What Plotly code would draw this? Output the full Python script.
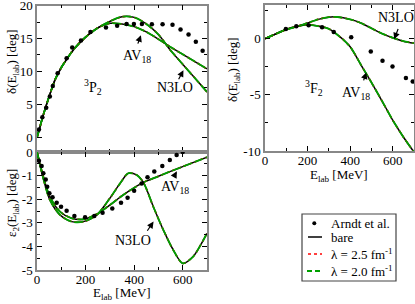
import plotly.graph_objects as go

W, H = 415, 304
FONT = "Liberation Serif"

# ---------------- data ----------------
# 3P2 phase shift (top-left)
p2_arndt_E = [8, 22, 38, 53, 65, 85, 122, 145, 181, 220, 284, 330, 369, 399, 432, 473, 517, 558, 591, 624, 654, 682]
p2_arndt_d = [1.2, 3.05, 4.5, 6.2, 7.8, 9.75, 12.0, 13.65, 14.7, 16.0, 16.65, 16.95, 17.2, 17.2, 17.2, 17.15, 17.15, 17.1, 16.35, 15.6, 14.5, 13.15]
p2_E = [0, 10, 25, 50, 75, 100, 125, 150, 200, 250, 300, 350, 400, 450, 500, 550, 600, 650, 700]
p2_n3lo = [0, 1.3, 3.3, 6.2, 8.8, 10.6, 12.0, 13.3, 15.2, 16.6, 17.6, 18.3, 18.2, 17.2, 15.6, 13.2, 11.1, 9.0, 6.9]
p2_av18 = [0, 1.3, 3.3, 6.2, 8.8, 10.6, 12.0, 13.3, 15.2, 16.6, 17.3, 17.2, 16.8, 16.0, 14.9, 13.7, 12.6, 11.5, 10.4]

# epsilon_2 mixing angle (bottom-left)
e2_arndt_E = [8, 19, 26, 36, 42, 51, 64, 81, 99, 122, 154, 198, 236, 270, 310, 346, 373, 400, 431, 455, 483, 516, 547, 575, 600]
e2_arndt_e = [-0.37, -0.59, -0.9, -1.16, -1.47, -1.75, -1.92, -2.15, -2.32, -2.49, -2.71, -2.77, -2.71, -2.57, -2.39, -2.15, -1.94, -1.64, -1.33, -1.07, -0.83, -0.59, -0.34, -0.13, 0.0]
e2_n3lo_E = [0, 10, 26, 53, 95, 143, 191, 246, 300, 342, 376, 410, 438, 479, 520, 561, 600, 643, 685, 700]
e2_n3lo = [0, -0.45, -1.12, -2.03, -2.67, -2.95, -2.95, -2.67, -1.96, -1.33, -0.9, -0.97, -1.29, -2.32, -3.3, -4.15, -4.72, -4.43, -3.73, -3.45]
e2_av18_E = [0, 10, 26, 53, 95, 143, 191, 246, 300, 355, 438, 500, 550, 600, 650, 700]
e2_av18 = [0, -0.4, -1.05, -1.89, -2.53, -2.81, -2.85, -2.63, -2.25, -1.82, -1.29, -1.03, -0.82, -0.62, -0.42, -0.22]

# 3F2 phase shift (right)
f2_arndt_E = [98, 147, 205, 268, 323, 405, 497, 552, 599, 662, 694]
f2_arndt_d = [0.86, 1.1, 1.19, 1.01, 0.6, 0.12, -1.13, -1.96, -2.47, -3.5, -3.81]
f2_E = [0, 50, 100, 150, 200, 250, 300, 340, 400, 450, 500, 550, 600, 650, 700]
f2_n3lo = [0, 0.42, 0.82, 1.08, 1.4, 1.72, 1.92, 1.93, 1.72, 1.4, 0.93, 0.45, 0.08, -0.22, -0.4]
f2_av18_E = [0, 50, 100, 150, 200, 250, 300, 350, 400, 450, 500, 550, 600, 650, 700]
f2_av18 = [0, 0.42, 0.82, 1.1, 1.25, 1.12, 0.88, 0.2, -0.72, -2.3, -3.9, -5.55, -7.25, -8.75, -10.1]

# tick labels
x_ticks = [0, 200, 400, 600]
x_tick_text = ["0", "200", "400", "600"]
p2_ticks = [0, 5, 10, 15, 20]
p2_tick_text = ["0", "5", "10", "15", "20"]
e2_ticks = [0, -1, -2, -3, -4, -5]
e2_tick_text = ["0", "-1", "-2", "-3", "-4", "-5"]
f2_ticks = [0, -5, -10]
f2_tick_text = ["0", "-5", "-10"]

legend_labels = ["Arndt et al.", "bare", "λ = 2.5 fm<sup>-1</sup>", "λ = 2.0 fm<sup>-1</sup>"]

GREEN = "#00a000"
RED = "#ff0000"

fig = go.Figure()


def add_curve(xv, yv, xa, ya):
    fig.add_trace(go.Scatter(x=xv, y=yv, xaxis=xa, yaxis=ya, mode="lines",
                             line=dict(color="black", width=1.5, shape="spline", smoothing=0.8),
                             showlegend=False, hoverinfo="skip"))
    fig.add_trace(go.Scatter(x=xv, y=yv, xaxis=xa, yaxis=ya, mode="lines",
                             line=dict(color=RED, width=1.6, dash="dot", shape="spline", smoothing=0.8),
                             showlegend=False, hoverinfo="skip"))
    fig.add_trace(go.Scatter(x=xv, y=yv, xaxis=xa, yaxis=ya, mode="lines",
                             line=dict(color=GREEN, width=1.8, dash="9px,3px", shape="spline", smoothing=0.8),
                             showlegend=False, hoverinfo="skip"))


def add_dots(xv, yv, xa, ya):
    fig.add_trace(go.Scatter(x=xv, y=yv, xaxis=xa, yaxis=ya, mode="markers",
                             marker=dict(color="black", size=4.5),
                             showlegend=False, hoverinfo="skip"))


add_curve(p2_E, p2_av18, "x", "y")
add_curve(p2_E, p2_n3lo, "x", "y")
add_dots(p2_arndt_E, p2_arndt_d, "x", "y")

add_curve(e2_av18_E, e2_av18, "x2", "y2")
add_curve(e2_n3lo_E, e2_n3lo, "x2", "y2")
add_dots(e2_arndt_E, e2_arndt_e, "x2", "y2")

add_curve(f2_av18_E, f2_av18, "x3", "y3")
add_curve(f2_E, f2_n3lo, "x3", "y3")
add_dots(f2_arndt_E, f2_arndt_d, "x3", "y3")

tickfont = dict(family=FONT, size=13, color="black")


def axstyle(tv, tt, minor_dtick, **kw):
    d = dict(showline=True, linecolor="#888888", linewidth=1.5, mirror="ticks",
             ticks="inside", ticklen=5, tickcolor="black", tickwidth=1,
             showgrid=False, zeroline=False, tickmode="array", tickvals=tv, ticktext=tt,
             tickfont=tickfont, automargin=False, ticklabeloverflow="allow",
             minor=dict(ticks="inside", ticklen=3, tickcolor="black", tickwidth=1,
                        tickmode="linear", tick0=0, dtick=minor_dtick))
    d.update(kw)
    return d


LX = [37 / W, 207 / W]
RX = [265 / W, 414 / W]

fig.update_layout(
    width=W, height=H,
    margin=dict(l=0, r=0, t=0, b=0),
    paper_bgcolor="white", plot_bgcolor="white",
    font=dict(family=FONT, size=13, color="black"),
    showlegend=False,
    xaxis=axstyle(x_ticks, x_tick_text, 100, domain=LX, anchor="y", range=[0, 700], matches="x2",
                  showticklabels=False),
    yaxis=axstyle(p2_ticks, p2_tick_text, 2.5, domain=[1 - 152 / H, 1 - 5.5 / H], anchor="x", range=[-2.2, 20]),
    xaxis2=axstyle(x_ticks, x_tick_text, 100, domain=LX, anchor="y2", range=[0, 700], ticklabelstandoff=-3),
    yaxis2=axstyle(e2_ticks, e2_tick_text, 0.5, domain=[1 - 270 / H, 1 - 152 / H], anchor="x2", range=[-5, 0]),
    xaxis3=axstyle(x_ticks, x_tick_text, 100, domain=RX, anchor="y3", range=[0, 700], ticklabelstandoff=-3),
    yaxis3=axstyle(f2_ticks, f2_tick_text, 2.5, domain=[1 - 151 / H, 1 - 5 / H], anchor="x3", range=[-10, 3]),
)


def X(p):
    return p / W


def Y(p):
    return 1 - p / H


titlefont = dict(family=FONT, size=13, color="black")
axis_titles = [
    ("δ(E<sub>lab</sub>) [deg]", 12, 62, -90),
    ("ε<sub>2</sub>(E<sub>lab</sub>) [deg]", 12, 203, -90),
    ("E<sub>lab</sub> [MeV]", 122, 293, 0),
    ("E<sub>lab</sub> [MeV]", 339, 175, 0),
    ("δ(E<sub>lab</sub>) [deg]", 233, 70, -90),
]
for t, xp, yp, ang in axis_titles:
    fig.add_annotation(text=t, x=X(xp), y=Y(yp), xref="paper", yref="paper", xanchor="center",
                       yanchor="middle", showarrow=False, textangle=ang, font=titlefont)

txtfont = dict(family=FONT, size=14, color="black")


def label(text, x, y, xr, yr):
    fig.add_annotation(text=text, x=x, y=y, xref=xr, yref=yr, showarrow=False, font=txtfont)


def arrow(x0, y0, x1, y1, xr, yr):
    fig.add_annotation(text="", x=x1, y=y1, ax=x0, ay=y0, xref=xr, yref=yr, axref=xr, ayref=yr,
                       showarrow=True, arrowhead=2, arrowsize=1.1, arrowwidth=1.2, arrowcolor="black")


label("<sup>3</sup>P<sub>2</sub>", 232, 7.7, "x", "y")
label("AV<sub>18</sub>", 410, 12.3, "x", "y")
arrow(413, 14.0, 428, 15.5, "x", "y")
label("N3LO", 568, 7.6, "x", "y")
arrow(580, 8.6, 603, 10.2, "x", "y")

label("AV<sub>18</sub>", 568, -1.5, "x2", "y2")
arrow(560, -1.12, 576, -0.82, "x2", "y2")
label("N3LO", 397, -3.73, "x2", "y2")
arrow(450, -3.4, 480, -2.95, "x2", "y2")

label("N3LO", 615, 1.85, "x3", "y3")
arrow(628, 1.0, 607, -0.05, "x3", "y3")
label("<sup>3</sup>F<sub>2</sub>", 229, -4.4, "x3", "y3")
label("AV<sub>18</sub>", 426, -4.9, "x3", "y3")
arrow(461, -3.85, 476, -3.0, "x3", "y3")

# ---------------- legend (drawn manually) ----------------
fig.add_shape(type="rect", xref="paper", yref="paper", x0=X(302), x1=X(396), y0=Y(214), y1=Y(281),
              line=dict(color="#444444", width=1.2), fillcolor="white", layer="above")
rows = [223, 237, 254, 271]
fig.add_shape(type="circle", xref="paper", yref="paper", x0=X(312.3), x1=X(316.3), y0=Y(221.2), y1=Y(225.2),
              fillcolor="black", line=dict(color="black", width=0), layer="above")
fig.add_shape(type="line", xref="paper", yref="paper", x0=X(308), x1=X(322), y0=Y(rows[1]), y1=Y(rows[1]),
              line=dict(color="black", width=1.5), layer="above")
fig.add_shape(type="line", xref="paper", yref="paper", x0=X(308), x1=X(322), y0=Y(rows[2]), y1=Y(rows[2]),
              line=dict(color=RED, width=1.6, dash="dot"), layer="above")
fig.add_shape(type="line", xref="paper", yref="paper", x0=X(307), x1=X(322), y0=Y(rows[3]), y1=Y(rows[3]),
              line=dict(color=GREEN, width=1.8, dash="5px,3px"), layer="above")
for lab, r in zip(legend_labels, rows):
    fig.add_annotation(text=lab, x=X(329), y=Y(r), xref="paper", yref="paper", xanchor="left",
                       yanchor="middle", showarrow=False, font=dict(family=FONT, size=13, color="black"))

fig.write_html("out.html", config={"displayModeBar": False},
               post_script="document.body.style.margin='0';")
